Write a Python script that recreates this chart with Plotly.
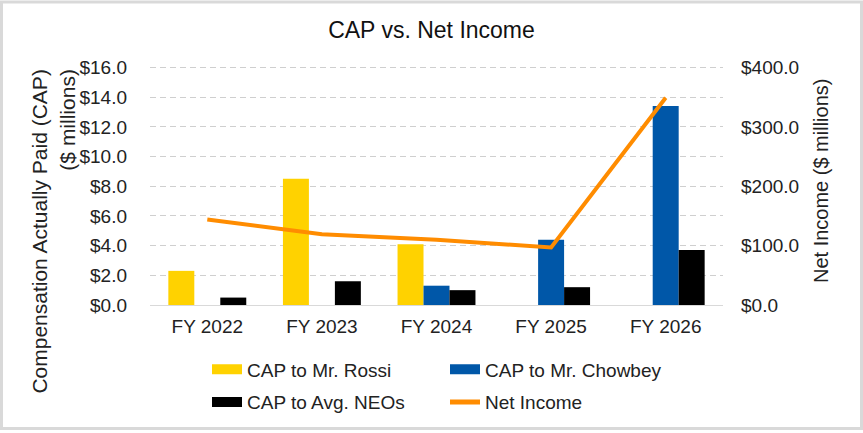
import plotly.graph_objects as go

years = ["FY 2022", "FY 2023", "FY 2024", "FY 2025", "FY 2026"]
cap_rossi = [2.3, 8.5, 4.1, None, None]
cap_chowbey = [None, None, 1.3, 4.4, 13.4]
cap_avg_neos = [0.5, 1.6, 1.0, 1.2, 3.7]
net_income = [144.0, 119.0, 110.0, 97.0, 349.0]

YELLOW = "#FFD200"
BLUE = "#0057A8"
BLACK = "#000000"
ORANGE = "#FF8C00"
GRID = "#D9D9D9"
FONT = "Liberation Sans, Arial, sans-serif"

W, H = 863, 433
L, R, T, B = 150, 140, 66, 126
PW, PH = W - L - R, H - T - B


def px_x(v):
    return (v - L) / PW


def px_y(v):
    return (H - B - v) / PH


fig = go.Figure()

for name, vals, color in [
    ("CAP to Mr. Rossi", cap_rossi, YELLOW),
    ("CAP to Mr. Chowbey", cap_chowbey, BLUE),
    ("CAP to Avg. NEOs", cap_avg_neos, BLACK),
]:
    fig.add_trace(go.Bar(x=years, y=vals, name=name, marker_color=color,
                         marker_line_width=0, showlegend=False))

fig.add_trace(go.Scatter(x=years, y=net_income, name="Net Income", yaxis="y2",
                         mode="lines", line=dict(color=ORANGE, width=4),
                         showlegend=False))

# legend swatches (wide rectangles like the original)
legend_rows = [
    ("legend", "CAP to Mr. Rossi", YELLOW, 10),
    ("legend", "CAP to Mr. Chowbey", BLUE, 10),
    ("legend2", "CAP to Avg. NEOs", BLACK, 10),
    ("legend2", "Net Income", ORANGE, 5),
]
for leg, name, color, w in legend_rows:
    fig.add_trace(go.Scatter(x=[None], y=[None], mode="lines", name=name,
                             line=dict(color=color, width=w), legend=leg,
                             hoverinfo="skip"))

leg_common = dict(orientation="h", xanchor="left", yanchor="middle",
                  font=dict(size=19, color="#222222", family=FONT),
                  entrywidth=193, entrywidthmode="pixels",
                  bgcolor="rgba(0,0,0,0)", itemclick=False)

# small headroom so the top gridline ($16 / $400) is not clipped at the edge
y_max = 16.1
fig.update_layout(
    width=W, height=H,
    margin=dict(l=L, r=R, t=T, b=B),
    paper_bgcolor="white", plot_bgcolor="white",
    font=dict(family=FONT, color="#222222"),
    title=dict(text="CAP vs. Net Income", x=0.5, xanchor="center",
               y=1 - 30 / H, yanchor="middle", yref="container",
               font=dict(size=23, color="#111111", family=FONT)),
    barmode="group", bargap=0.32, bargroupgap=0,
    xaxis=dict(showgrid=False, showline=True, linecolor=GRID, linewidth=1,
               ticks="", tickfont=dict(size=19), ticklabelstandoff=4),
    yaxis=dict(range=[0, y_max], tick0=0, dtick=2, tickprefix="$",
               tickformat=".1f", showgrid=True, gridcolor="#CFCFCF",
               griddash="6px,4px", gridwidth=1.2, zeroline=False,
               tickfont=dict(size=19), ticklabelstandoff=22),
    yaxis2=dict(range=[0, y_max * 25], tick0=0, dtick=100, tickprefix="$",
                tickformat=".1f", overlaying="y", side="right",
                showgrid=False, zeroline=False,
                tickfont=dict(size=19), ticklabelstandoff=17),
    legend=dict(x=px_x(207), y=px_y(372), **leg_common),
    legend2=dict(x=px_x(207), y=px_y(405), **leg_common),
    annotations=[
        dict(text="Compensation Actually Paid (CAP)<br>($ millions)",
             xref="paper", yref="paper", x=px_x(53), y=px_y(233),
             xanchor="center", yanchor="middle", textangle=-90,
             align="right", showarrow=False,
             font=dict(size=21, color="#222222", family=FONT)),
        dict(text="Net Income ($ millions)",
             xref="paper", yref="paper", x=px_x(821), y=px_y(182),
             xanchor="center", yanchor="middle", textangle=-90,
             showarrow=False,
             font=dict(size=20, color="#222222", family=FONT)),
    ],
    shapes=[
        dict(type="rect", xref="paper", yref="paper",
             x0=px_x(1.5), x1=px_x(W - 1.5), y0=px_y(H - 1.5), y1=px_y(1.5),
             line=dict(color=GRID, width=3), layer="below"),
    ],
)

# page body has a default margin; drop it so the figure sits at the corner
fig.write_html("out.html", config={"displayModeBar": False},
               post_script="document.body.style.margin='0';")
